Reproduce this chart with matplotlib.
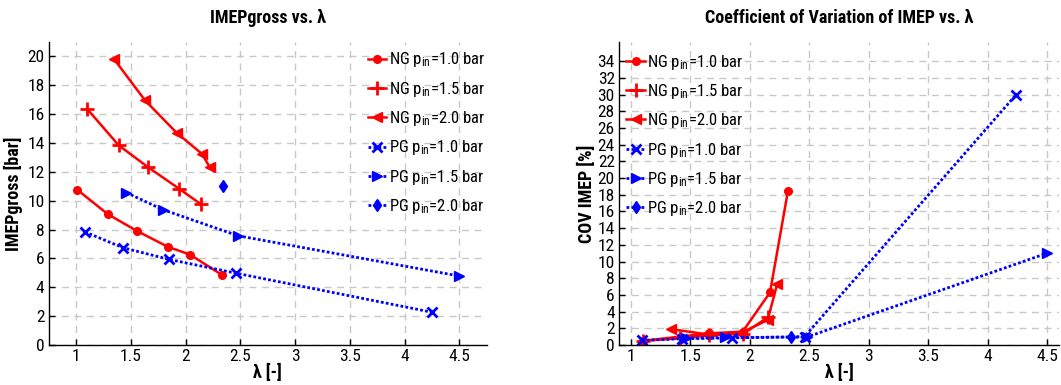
import matplotlib
matplotlib.use("Agg")
import matplotlib.pyplot as plt
from matplotlib import font_manager as fm

# ---------------- data ----------------
labels = ["NG p$_{\\mathrm{in}}$=1.0 bar", "NG p$_{\\mathrm{in}}$=1.5 bar", "NG p$_{\\mathrm{in}}$=2.0 bar",
          "PG p$_{\\mathrm{in}}$=1.0 bar", "PG p$_{\\mathrm{in}}$=1.5 bar", "PG p$_{\\mathrm{in}}$=2.0 bar"]

# IMEPgross vs lambda
lam_ng10 = [1.01, 1.29, 1.56, 1.84, 2.04, 2.33]
imep_ng10 = [10.77, 9.07, 7.89, 6.80, 6.27, 4.87]
lam_ng15 = [1.10, 1.39, 1.655, 1.94, 2.14]
imep_ng15 = [16.38, 13.84, 12.34, 10.84, 9.76]
lam_ng20 = [1.35, 1.63, 1.92, 2.15, 2.22]
imep_ng20 = [19.79, 16.96, 14.70, 13.25, 12.34]
lam_pg10 = [1.08, 1.43, 1.85, 2.46, 4.25]
imep_pg10 = [7.84, 6.74, 5.93, 4.98, 2.27]
lam_pg15 = [1.46, 1.79, 2.48, 4.50]
imep_pg15 = [10.56, 9.39, 7.57, 4.78]
lam_pg20 = [2.34]
imep_pg20 = [11.0]

# COV of IMEP vs lambda
clam_ng10 = [1.10, 1.66, 1.94, 2.17, 2.32]
cov_ng10 = [0.5, 1.4, 1.6, 6.3, 18.4]
clam_ng15 = [1.10, 1.41, 1.66, 1.94, 2.15]
cov_ng15 = [0.5, 0.8, 1.2, 1.3, 3.3]
clam_ng20 = [1.34, 1.63, 1.92, 2.15, 2.23]
cov_ng20 = [1.9, 1.3, 1.4, 3.0, 7.3]
clam_pg10 = [1.09, 1.43, 1.85, 2.46, 4.24]
cov_pg10 = [0.55, 0.75, 0.85, 1.0, 30.0]
clam_pg15 = [1.46, 1.79, 2.48, 4.50]
cov_pg15 = [0.8, 0.9, 0.95, 11.0]
clam_pg20 = [2.35]
cov_pg20 = [1.0]

xticks = [1, 1.5, 2, 2.5, 3, 3.5, 4, 4.5]
xticklabels = ["1", "1.5", "2", "2.5", "3", "3.5", "4", "4.5"]
yticks_left = list(range(0, 21, 2))
yticks_right = list(range(0, 35, 2))

# ---------------- style ----------------
names = {f.name for f in fm.fontManager.ttflist}
FONT = "Liberation Sans"
for cand in ["Liberation Sans Narrow", "Arial Narrow", "Roboto Condensed"]:
    if cand in names:
        FONT = cand
        break
plt.rcParams["font.family"] = [FONT, "DejaVu Sans"]
plt.rcParams["mathtext.fontset"] = "custom"
plt.rcParams["mathtext.rm"] = FONT
plt.rcParams["mathtext.it"] = FONT
plt.rcParams["mathtext.bf"] = FONT + ":bold"

RED = "#ff0000"
BLUE = "#0000ff"
FS = 12
FS_T = 13

W, H = 1061, 385
fig = plt.figure(figsize=(W / 100, H / 100), dpi=100)

def px_axes(x0, x1, y0, y1):
    return fig.add_axes([x0 / W, (H - y1) / H, (x1 - x0) / W, (y1 - y0) / H])

axL = px_axes(48.6, 486.7, 42, 345)
axR = px_axes(619, 1059, 42, 345)

red_kw = dict(color=RED, lw=1.8, ls="-")
blue_kw = dict(color=BLUE, lw=2.0, ls=(0, (1, 0.8)))

def draw(ax, series):
    (l1, v1), (l2, v2), (l3, v3), (l4, v4), (l5, v5), (l6, v6) = series
    ax.plot(l1, v1, marker="o", ms=5.5, label=labels[0], **red_kw)
    ax.plot(l2, v2, marker="+", ms=10, mew=2, label=labels[1], **red_kw)
    ax.plot(l3, v3, marker="<", ms=6.5, label=labels[2], **red_kw)
    ax.plot(l4, v4, marker="x", ms=6.5, mew=2, label=labels[3], **blue_kw)
    ax.plot(l5, v5, marker=">", ms=6.5, label=labels[4], **blue_kw)
    ax.plot(l6, v6, marker="d", ms=6.5, label=labels[5], **blue_kw)

draw(axL, [(lam_ng10, imep_ng10), (lam_ng15, imep_ng15), (lam_ng20, imep_ng20),
           (lam_pg10, imep_pg10), (lam_pg15, imep_pg15), (lam_pg20, imep_pg20)])
draw(axR, [(clam_ng10, cov_ng10), (clam_ng15, cov_ng15), (clam_ng20, cov_ng20),
           (clam_pg10, cov_pg10), (clam_pg15, cov_pg15), (clam_pg20, cov_pg20)])

for ax, yt, ylim, xlim in [(axL, yticks_left, (0, 21), (0.75, 4.75)),
                           (axR, yticks_right, (0, 36.3), (0.9, 4.6))]:
    ax.set_xlim(*xlim)
    ax.set_ylim(*ylim)
    ax.set_xticks(xticks)
    ax.set_xticklabels(xticklabels)
    ax.set_yticks(yt)
    ax.grid(True, color="#c8c8c8", ls=(0, (5, 4)), lw=1.0)
    ax.set_axisbelow(True)
    for s in ("top", "right"):
        ax.spines[s].set_visible(False)
    for s in ("left", "bottom"):
        ax.spines[s].set_linewidth(1.0)
    ax.tick_params(direction="in", length=4, width=1, labelsize=12.5, pad=3)
    ax.set_xlabel("λ [-]", fontsize=FS_T, fontweight="bold", labelpad=0)

axL.set_title("IMEPgross vs. λ", fontsize=FS_T, fontweight="bold", pad=14)
axR.set_title("Coefficient of Variation of IMEP vs. λ", fontsize=FS_T, fontweight="bold", pad=14)
axL.set_ylabel("IMEPgross [bar]", fontsize=FS_T, fontweight="bold", labelpad=3)
axR.set_ylabel("COV IMEP [%]", fontsize=FS_T, fontweight="bold", labelpad=1)

leg_kw = dict(frameon=False, fontsize=FS, handlelength=1.1, handletextpad=0.15,
              labelspacing=0.62, borderpad=0, borderaxespad=0, loc="upper left")
axL.legend(bbox_to_anchor=(0.729, 0.972), **leg_kw)
axR.legend(bbox_to_anchor=(0.017, 0.965), **leg_kw)

fig.savefig("out.png", dpi=100)
